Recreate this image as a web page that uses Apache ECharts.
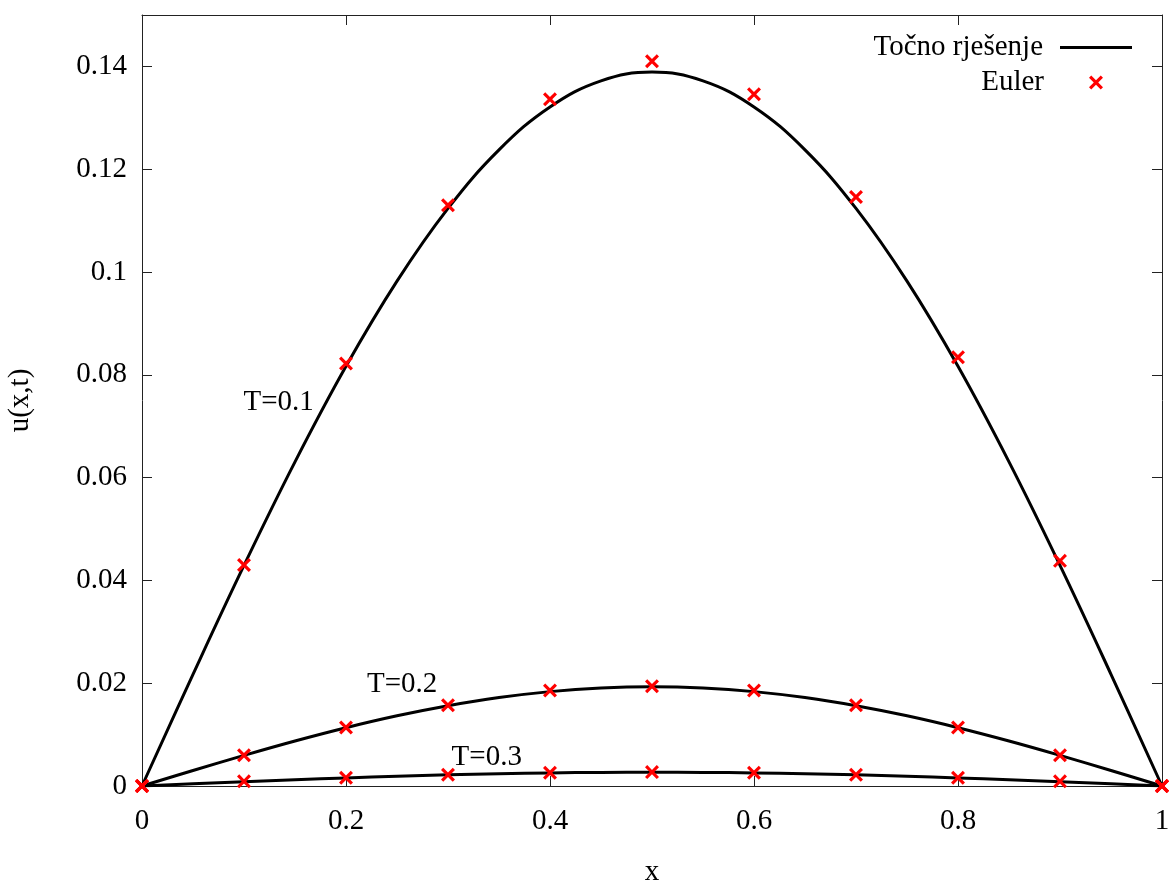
<!DOCTYPE html>
<html>
<head>
<meta charset="utf-8">
<script src="https://cdn.jsdelivr.net/npm/echarts@6/dist/echarts.min.js"></script>
<style>html,body{margin:0;padding:0;background:#fff}#c{width:1172px;height:882px}</style>
</head>
<body>
<div id="c"></div>
<script>
// x grid for exact solution curves
const xs = [0,0.05,0.1,0.15,0.2,0.25,0.3,0.35,0.4,0.45,0.5,0.55,0.6,0.65,0.7,0.75,0.8,0.85,0.9,0.95,1];
const exactT1 = [0,0.02173,0.04292,0.06306,0.08165,0.09822,0.11237,0.12376,0.13211,0.13719,0.1389,0.13719,0.13211,0.12376,0.11237,0.09822,0.08165,0.06306,0.04292,0.02173,0];
const exactT2 = [0,0.00302,0.00596,0.00876,0.01134,0.01365,0.01561,0.0172,0.01836,0.01906,0.0193,0.01906,0.01836,0.0172,0.01561,0.01365,0.01134,0.00876,0.00596,0.00302,0];
const exactT3 = [0,0.00042,0.00083,0.00122,0.00158,0.0019,0.00217,0.00239,0.00255,0.00265,0.00268,0.00265,0.00255,0.00239,0.00217,0.0019,0.00158,0.00122,0.00083,0.00042,0];
// Euler points
const ex = [0,0.1,0.2,0.3,0.4,0.5,0.6,0.7,0.8,0.9,1];
const eulerT1 = [0,0.0430,0.0822,0.1130,0.1336,0.1410,0.1346,0.1146,0.0834,0.0438,0];
const eulerT2 = [0,0.0060,0.0114,0.0157,0.0186,0.0194,0.0186,0.0157,0.0114,0.0060,0];
const eulerT3 = [0,0.0009,0.0016,0.0022,0.0026,0.0027,0.0026,0.0022,0.0016,0.0009,0];
// annotations
const annText = ['T=0.1','T=0.2','T=0.3'];
const annX = [0.134,0.255,0.338];
const annY = [0.0747,0.0198,0.0056];

const FONT = 'Liberation Serif';
const FS = 29;
const AX = '#222';
const xPath = 'path://M0,1.6L1.6,0L5,3.4L8.4,0L10,1.6L6.6,5L10,8.4L8.4,10L5,6.6L1.6,10L0,8.4L3.4,5Z';
const pairs = (a, b) => a.map((v, i) => [v, b[i]]);

const lineSeries = (d) => ({
  name: 'Točno rješenje', type: 'line', data: pairs(xs, d), smooth: 0.4,
  showSymbol: false, symbol: 'none', lineStyle: { color: '#000', width: 3 }, itemStyle: { color: '#000' },
  z: 2, silent: true, animation: false
});
const eulerSeries = (d) => ({
  name: 'Euler', type: 'scatter', data: pairs(ex, d), symbol: xPath, symbolSize: 14,
  symbolKeepAspect: true, itemStyle: { color: '#ff0000', opacity: 1 }, z: 3, animation: false
});

const axisCommon = {
  axisLine: { show: true, onZero: false, lineStyle: { color: AX, width: 1 } },
  axisTick: { show: true, inside: true, length: 10, lineStyle: { color: AX } },
  splitLine: { show: false }
};

const option = {
  backgroundColor: '#fff',
  animation: false,
  textStyle: { fontFamily: FONT },
  grid: { left: 142, right: 10, top: 15, bottom: 96, containLabel: false, outerBoundsMode: 'none' },
  legend: [
    { data: [{ name: 'Točno rješenje', icon: 'rect' }], right: 35, top: 28, itemWidth: 72, itemHeight: 3, align: 'right',
      itemStyle: { color: '#000' },
      textStyle: { fontFamily: FONT, fontSize: FS, color: '#000', padding: [0, 12, 0, 0] }, selectedMode: false },
    { data: ['Euler'], right: 64, top: 63, itemWidth: 14, itemHeight: 14, align: 'right',
      itemStyle: { color: '#ff0000', opacity: 1 },
      textStyle: { fontFamily: FONT, fontSize: FS, color: '#000', padding: [0, 40, 0, 0] }, selectedMode: false }
  ],
  xAxis: [
    Object.assign({ type: 'value', min: 0, max: 1, interval: 0.2, position: 'bottom',
      axisLabel: { fontFamily: FONT, fontSize: FS, color: '#000', margin: 21 },
      name: 'x', nameLocation: 'middle', nameGap: 72,
      nameTextStyle: { fontFamily: FONT, fontSize: FS, color: '#000' } }, axisCommon),
    Object.assign({ type: 'value', min: 0, max: 1, interval: 0.2, position: 'top',
      axisLabel: { show: false } }, axisCommon)
  ],
  yAxis: [
    Object.assign({ type: 'value', min: 0, max: 0.15, interval: 0.02, position: 'left',
      axisLabel: { fontFamily: FONT, fontSize: FS, color: '#000', margin: 15, showMaxLabel: false },
      name: 'u(x,t)', nameLocation: 'middle', nameGap: 107, nameRotate: 90,
      nameTextStyle: { fontFamily: FONT, fontSize: FS, color: '#000' } }, axisCommon),
    Object.assign({ type: 'value', min: 0, max: 0.15, interval: 0.02, position: 'right',
      axisLabel: { show: false } }, axisCommon)
  ],
  series: [
    lineSeries(exactT1), lineSeries(exactT2), lineSeries(exactT3),
    eulerSeries(eulerT1), eulerSeries(eulerT2), eulerSeries(eulerT3),
    { type: 'scatter', symbolSize: 0, silent: true, z: 4, itemStyle: { opacity: 1 },
      data: annText.map((t, i) => ({ value: [annX[i], annY[i]], label: { formatter: t } })),
      label: { show: true, position: 'inside', fontFamily: FONT, fontSize: FS, color: '#000', opacity: 1, textBorderWidth: 0 } }
  ]
};
const chart = echarts.init(document.getElementById('c'), null, { renderer: 'canvas' });
chart.setOption(option);
</script>
</body>
</html>
